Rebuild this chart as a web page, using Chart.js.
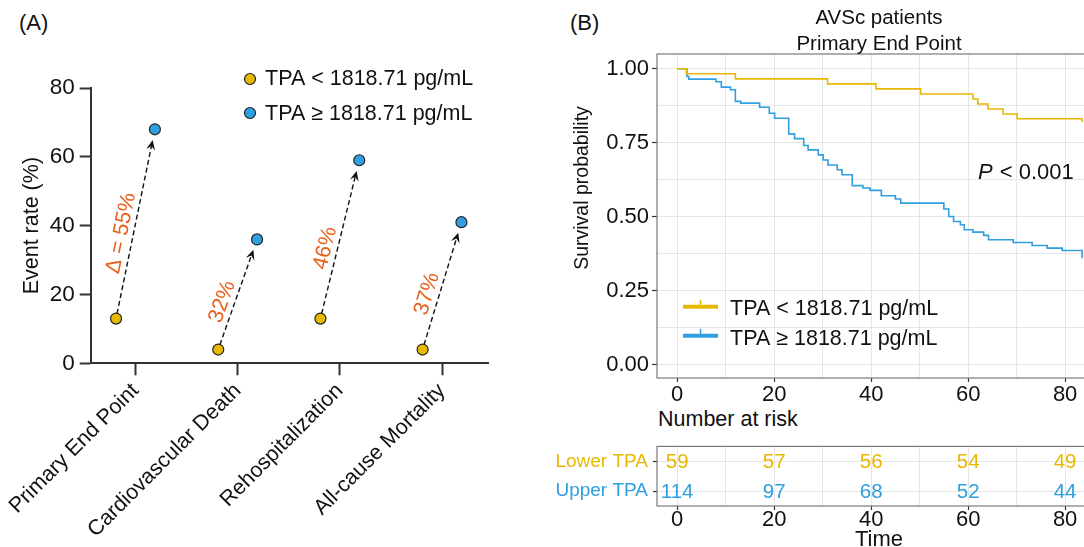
<!DOCTYPE html>
<html>
<head>
<meta charset="utf-8">
<script src="https://cdn.jsdelivr.net/npm/chart.js@4/dist/chart.umd.min.js"></script>
<style>
html, body { margin: 0; padding: 0; background: #fff; overflow: hidden; }
body { width: 1084px; height: 547px; position: relative; font-family: "Liberation Sans", Arial, Helvetica, sans-serif; }
canvas { position: absolute; }
.txt { position: absolute; font-size: 21.5px; color: #111; white-space: nowrap; line-height: 1; }
</style>
</head>
<body>
<div class="txt" style="left:19px;top:12px;font-size:22px">(A)</div>
<div class="txt" style="left:570px;top:12px;font-size:22px">(B)</div>
<div class="txt" style="left:658px;top:409px">Number at risk</div>
<canvas id="chartA" width="540" height="547" style="left:0;top:0"></canvas>
<canvas id="chartB" width="570" height="405" style="left:540px;top:0"></canvas>
<canvas id="chartC" width="570" height="125" style="left:540px;top:430px"></canvas>
<script>
const FONT = '"Liberation Sans", Arial, Helvetica, sans-serif';
Chart.defaults.font.family = FONT;
Chart.defaults.color = '#111';

const YELLOW = '#E7B800';
const BLUE = '#2E9FDF';
const ORANGE = '#E8601C';
const INK = '#111';

// panel A data
const categories = ['Primary End Point', 'Cardiovascular Death', 'Rehospitalization', 'All-cause Mortality'];
const lowerRates = [13, 4, 13, 4];
const upperRates = [68, 36, 59, 41];
const deltaLabels = ['\u0394 = 55%', '32%', '46%', '37%'];
const groupNames = ['TPA < 1818.71 pg/mL', 'TPA \u2265 1818.71 pg/mL'];
const yTicksA = [0, 20, 40, 60, 80];

// panel B data (Kaplan-Meier steps)
const lowerTimes = [0, 1.9, 12.0, 31.0, 41.0, 50.2, 61.0, 62.0, 64.1, 67.2, 70.1, 83.5];
const lowerSurv = [1, 0.983, 0.966, 0.949, 0.932, 0.915, 0.898, 0.881, 0.864, 0.847, 0.831, 0.82];
const upperTimes = [0, 2.0, 2.4, 8.0, 9.1, 11.0, 12.0, 13.1, 17.0, 19.0, 20.1, 23.0, 24.2, 26.1, 27.0, 29.1,
  30.1, 31.1, 33.0, 34.0, 36.1, 38.3, 39.8, 42.1, 45.0, 46.1, 55.0, 56.0, 57.0, 58.4, 59.2, 61.0,
  63.2, 64.2, 69.3, 73.2, 76.3, 79.4, 83.5];
const upperSurv = [1, 0.974, 0.965, 0.956, 0.938, 0.929, 0.890, 0.884, 0.870, 0.850, 0.833, 0.780, 0.764, 0.741, 0.726, 0.709,
  0.692, 0.675, 0.659, 0.642, 0.605, 0.597, 0.589, 0.571, 0.560, 0.546, 0.526, 0.501, 0.484, 0.473, 0.456, 0.448,
  0.437, 0.422, 0.413, 0.403, 0.394, 0.386, 0.36];
const yTicksB = [0, 0.125, 0.25, 0.375, 0.5, 0.625, 0.75, 0.875, 1];
const xTicksB = [0, 10, 20, 30, 40, 50, 60, 70, 80];

// risk table
const riskRows = ['Lower TPA', 'Upper TPA'];
const riskTimes = [0, 20, 40, 60, 80];
const riskLower = [59, 57, 56, 54, 49];
const riskUpper = [114, 97, 68, 52, 44];

const dodge = 0.19;

// ---------- panel A ----------
const arrowsA = {
  id: 'arrowsA',
  beforeDatasetsDraw(chart) {
    const ctx = chart.ctx;
    const m0 = chart.getDatasetMeta(0), m1 = chart.getDatasetMeta(1);
    ctx.save();
    m0.data.forEach((p0, i) => {
      const p1 = m1.data[i];
      const dx = p1.x - p0.x, dy = p1.y - p0.y;
      const len = Math.hypot(dx, dy);
      const ux = dx / len, uy = dy / len;
      const nx = uy, ny = -ux;
      const sx = p0.x + ux * 5, sy = p0.y + uy * 5;
      const ex = p1.x - ux * 11, ey = p1.y - uy * 11;
      ctx.strokeStyle = INK;
      ctx.lineWidth = 1.4;
      ctx.setLineDash([5, 3]);
      ctx.beginPath();
      ctx.moveTo(sx, sy);
      ctx.lineTo(ex - ux * 6, ey - uy * 6);
      ctx.stroke();
      ctx.setLineDash([]);
      // arrow head
      const hl = 10, hw = 4.5;
      const bx = ex - ux * hl, by = ey - uy * hl;
      ctx.fillStyle = INK;
      ctx.beginPath();
      ctx.moveTo(ex, ey);
      ctx.lineTo(bx + nx * hw, by + ny * hw);
      ctx.lineTo(ex - ux * hl * 0.6, ey - uy * hl * 0.6);
      ctx.lineTo(bx - nx * hw, by - ny * hw);
      ctx.closePath();
      ctx.fill();
      // delta label
      const cx = (sx + ex) / 2 + nx * 12 - ux * 9;
      const cy = (sy + ey) / 2 + ny * 12 - uy * 9;
      ctx.save();
      ctx.translate(cx, cy);
      ctx.rotate(Math.atan2(dy, dx));
      ctx.fillStyle = ORANGE;
      ctx.font = '21.5px ' + FONT;
      ctx.textAlign = 'center';
      ctx.textBaseline = 'middle';
      ctx.fillText(deltaLabels[i], 0, 0);
      ctx.restore();
    });
    ctx.restore();
  },
  afterDraw(chart) {
    const ctx = chart.ctx;
    ctx.save();
    ctx.font = '21.5px ' + FONT;
    ctx.textBaseline = 'alphabetic';
    const rows = [[79, 85], [113, 120]];
    chart.data.datasets.forEach((ds, i) => {
      ctx.beginPath();
      ctx.arc(250, rows[i][0], 5.5, 0, Math.PI * 2);
      ctx.fillStyle = ds.backgroundColor;
      ctx.fill();
      ctx.lineWidth = 1.2;
      ctx.strokeStyle = '#222';
      ctx.stroke();
      ctx.fillStyle = INK;
      ctx.fillText(ds.label, 265, rows[i][1]);
    });
    ctx.restore();
  }
};

new Chart(document.getElementById('chartA'), {
  type: 'scatter',
  data: {
    datasets: [
      { label: groupNames[0], data: lowerRates.map((v, i) => ({ x: i - dodge, y: v })),
        backgroundColor: YELLOW, borderColor: '#222', borderWidth: 1.2, pointRadius: 5.5 },
      { label: groupNames[1], data: upperRates.map((v, i) => ({ x: i + dodge, y: v })),
        backgroundColor: BLUE, borderColor: '#222', borderWidth: 1.2, pointRadius: 5.5 }
    ]
  },
  options: {
    responsive: false,
    animation: false,
    events: [],
    layout: { padding: { top: 88, right: 52, left: 0, bottom: 0 } },
    plugins: { legend: { display: false }, tooltip: { enabled: false } },
    scales: {
      x: {
        type: 'linear', min: -0.438, max: 3.45,
        afterBuildTicks: s => { s.ticks = categories.map((c, i) => ({ value: i })); },
        afterFit: s => { s.height = 547 - 363.3; },
        ticks: { callback: v => categories[v], minRotation: 45, maxRotation: 45, autoSkip: false,
          font: { size: 21.5 }, color: INK, padding: 3 },
        grid: { drawOnChartArea: false, tickLength: 12, tickColor: '#333', tickWidth: 2 },
        border: { color: '#333', width: 2 }
      },
      y: {
        min: 0, max: 80,
        afterBuildTicks: s => { s.ticks = yTicksA.map(v => ({ value: v })); },
        afterFit: s => { s.width = 88.3; },
        ticks: { font: { size: 22.5 }, color: INK, padding: 5 },
        grid: { drawOnChartArea: false, tickLength: 11, tickColor: '#333', tickWidth: 2 },
        border: { color: '#333', width: 2 },
        title: { display: true, text: 'Event rate (%)', font: { size: 21.5 }, color: INK, padding: { top: 17 } }
      }
    }
  },
  plugins: [arrowsA]
});

// ---------- panel B ----------
const gridColor = '#E6E6E6';
const majorTick = c => (c.tick && c.tick.value % 20 === 0) ? '#333' : 'rgba(0,0,0,0)';
const isQuarter = v => Math.abs(v * 4 - Math.round(v * 4)) < 1e-6;

const decorB = {
  id: 'decorB',
  afterDraw(chart) {
    const ctx = chart.ctx, a = chart.chartArea;
    ctx.save();
    ctx.strokeStyle = '#7a7a7a';
    ctx.lineWidth = 1.2;
    ctx.strokeRect(a.left, a.top, a.right - a.left, a.bottom - a.top);
    const cx = (a.left + a.right) / 2;
    ctx.fillStyle = INK;
    ctx.textAlign = 'center';
    ctx.font = '20.5px ' + FONT;
    ctx.fillText('AVSc patients', cx, 23.5);
    ctx.fillText('Primary End Point', cx, 49.5);
    // y title
    ctx.save();
    ctx.translate(43, 188);
    ctx.rotate(-Math.PI / 2);
    ctx.font = '19.5px ' + FONT;
    ctx.textBaseline = 'middle';
    ctx.fillText('Survival probability', 0, 0);
    ctx.restore();
    // p value
    ctx.textAlign = 'left';
    ctx.font = 'italic 22px ' + FONT;
    ctx.fillText('P', 438, 179);
    const pw = ctx.measureText('P').width;
    ctx.font = '22px ' + FONT;
    ctx.fillText(' < 0.001', 438 + pw + 1, 179);
    // legend
    const rows = [[306.7, 315], [335.7, 345]];
    chart.data.datasets.forEach((ds, i) => {
      const y = rows[i][0];
      ctx.strokeStyle = ds.borderColor;
      ctx.lineWidth = 4;
      ctx.beginPath();
      ctx.moveTo(143, y);
      ctx.lineTo(178, y);
      ctx.stroke();
      ctx.lineWidth = 1.5;
      ctx.beginPath();
      ctx.moveTo(160.5, y);
      ctx.lineTo(160.5, y - 7);
      ctx.stroke();
      ctx.fillStyle = INK;
      ctx.font = '21.5px ' + FONT;
      ctx.fillText(ds.label, 190, rows[i][1]);
    });
    ctx.restore();
  }
};

new Chart(document.getElementById('chartB'), {
  type: 'line',
  data: {
    datasets: [
      { label: groupNames[0], data: lowerTimes.map((t, i) => ({ x: t, y: lowerSurv[i] })),
        borderColor: YELLOW, borderWidth: 1.6, pointRadius: 0, stepped: true, fill: false },
      { label: groupNames[1], data: upperTimes.map((t, i) => ({ x: t, y: upperSurv[i] })),
        borderColor: BLUE, borderWidth: 1.6, pointRadius: 0, stepped: true, fill: false }
    ]
  },
  options: {
    responsive: false,
    animation: false,
    events: [],
    layout: { padding: { top: 54, right: 9, left: 0, bottom: 0 } },
    plugins: { legend: { display: false }, tooltip: { enabled: false } },
    scales: {
      x: {
        type: 'linear', min: -4.16, max: 87.4,
        afterBuildTicks: s => { s.ticks = xTicksB.map(v => ({ value: v })); },
        afterFit: s => { s.height = 27; },
        ticks: { callback: v => (v % 20 === 0 ? String(v) : ''), autoSkip: false,
          font: { size: 22, lineHeight: 1 }, color: INK, padding: 2, maxRotation: 0 },
        grid: { color: gridColor, lineWidth: 1, tickLength: 4, tickColor: majorTick, tickWidth: 1.2 },
        border: { display: false }
      },
      y: {
        min: -0.045, max: 1.05,
        afterBuildTicks: s => { s.ticks = yTicksB.map(v => ({ value: v })); },
        afterFit: s => { s.width = 117; },
        ticks: { callback: v => (isQuarter(v) ? v.toFixed(2) : ''),
          font: { size: 22 }, color: INK, padding: 3 },
        grid: { color: gridColor, lineWidth: 1, tickLength: 5,
          tickColor: c => (c.tick && isQuarter(c.tick.value)) ? '#333' : 'rgba(0,0,0,0)',
          tickWidth: 1.2 },
        border: { display: false }
      }
    }
  },
  plugins: [decorB]
});

// ---------- risk table ----------
const rowColors = [YELLOW, BLUE];
const riskText = {
  id: 'riskText',
  afterDraw(chart) {
    const ctx = chart.ctx, a = chart.chartArea;
    ctx.save();
    ctx.strokeStyle = '#7a7a7a';
    ctx.lineWidth = 1.2;
    ctx.strokeRect(a.left, a.top, a.right - a.left, a.bottom - a.top);
    ctx.font = '20.5px ' + FONT;
    ctx.textAlign = 'center';
    ctx.textBaseline = 'middle';
    chart.data.datasets.forEach((ds, di) => {
      ctx.fillStyle = ds.borderColor;
      chart.getDatasetMeta(di).data.forEach((el, i) => {
        ctx.fillText(String(ds.data[i].n), el.x, el.y + 1);
      });
    });
    ctx.restore();
  }
};

new Chart(document.getElementById('chartC'), {
  type: 'scatter',
  data: {
    datasets: [
      { label: riskRows[0], data: riskTimes.map((t, i) => ({ x: t, y: riskRows[0], n: riskLower[i] })),
        borderColor: YELLOW, backgroundColor: YELLOW, pointRadius: 0 },
      { label: riskRows[1], data: riskTimes.map((t, i) => ({ x: t, y: riskRows[1], n: riskUpper[i] })),
        borderColor: BLUE, backgroundColor: BLUE, pointRadius: 0 }
    ]
  },
  options: {
    responsive: false,
    animation: false,
    events: [],
    layout: { padding: { top: 6, right: 9, left: 0, bottom: 0 } },
    plugins: { legend: { display: false }, tooltip: { enabled: false } },
    scales: {
      x: {
        type: 'linear', min: -4.16, max: 87.4,
        afterBuildTicks: s => { s.ticks = xTicksB.map(v => ({ value: v })); },
        afterFit: s => { s.height = 49; },
        ticks: { callback: v => (v % 20 === 0 ? String(v) : ''), autoSkip: false,
          font: { size: 22, lineHeight: 1 }, color: INK, padding: -1, maxRotation: 0 },
        grid: { color: gridColor, lineWidth: 1, tickLength: 4, tickColor: majorTick, tickWidth: 1.2 },
        border: { display: false },
        title: { display: true, text: 'Time', font: { size: 22, lineHeight: 1 }, color: INK, padding: { top: 0, bottom: 4 } }
      },
      y: {
        type: 'category', labels: riskRows, offset: true,
        afterFit: s => { s.width = 117; },
        ticks: { font: { size: 19 }, color: c => rowColors[c.index], padding: 5 },
        grid: { offset: false, color: gridColor, lineWidth: 1, tickLength: 4, tickColor: '#333', tickWidth: 1.2 },
        border: { display: false }
      }
    }
  },
  plugins: [riskText]
});
</script>
</body>
</html>
